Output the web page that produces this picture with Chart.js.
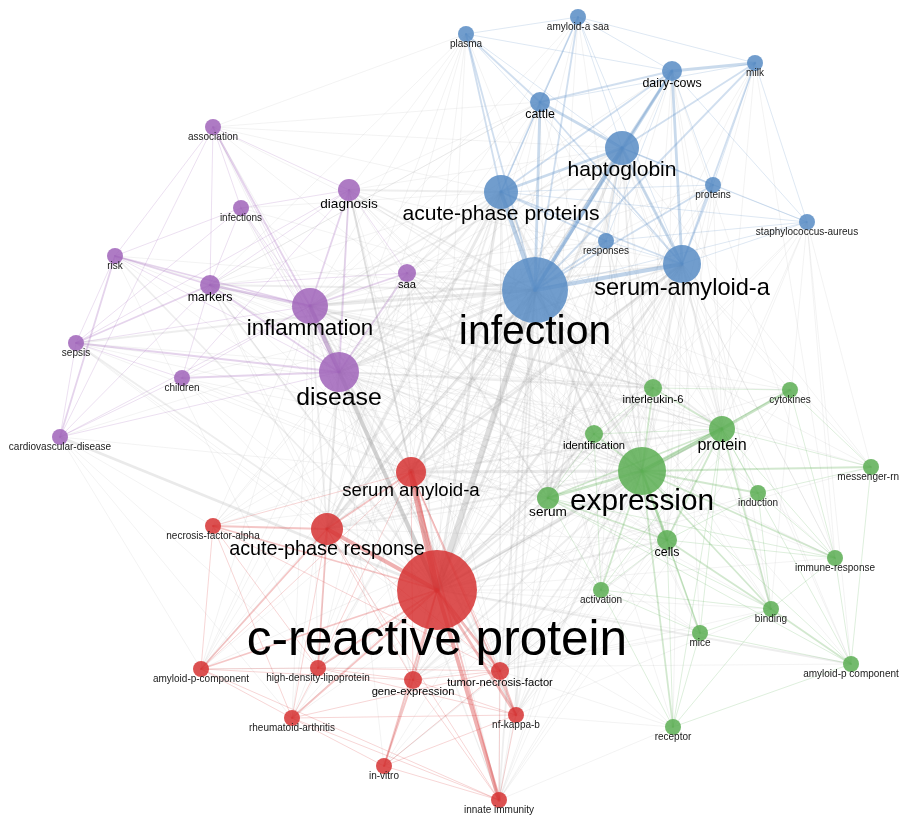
<!DOCTYPE html>
<html>
<head>
<meta charset="utf-8">
<title>Term co-occurrence network</title>
<script src="https://cdn.jsdelivr.net/npm/chart.js@4.4.1/dist/chart.umd.min.js"></script>
<style>
  html, body { margin: 0; padding: 0; background: #ffffff; }
  canvas { display: block; }
</style>
</head>
<body>
<canvas id="map" width="899" height="818"></canvas>
<script>
// ---- network data -------------------------------------------------------
// term identifiers, displayed labels, map coordinates, weights, clusters
const termIds = ['inf','sab','hap','app','cat','dc','milk','pla','aas','prs','sta','res',
  'infl','dis','dia','mar','ass','infs','risk','saa','sep','chi','cvd',
  'crp','sar','apr','nfa','apc','hdl','gex','tnf','ra','nfk','ivt','inn',
  'exp','pro','il6','cyt','idn','mrn','ind','ser','cel','imr','act','bin','mic','apc2','rec'];

const termLabels = ['infection','serum-amyloid-a','haptoglobin','acute-phase proteins','cattle','dairy-cows','milk','plasma','amyloid-a saa','proteins','staphylococcus-aureus','responses',
  'inflammation','disease','diagnosis','markers','association','infections','risk','saa','sepsis','children','cardiovascular-disease',
  'c-reactive protein','serum amyloid-a','acute-phase response','necrosis-factor-alpha','amyloid-p-component','high-density-lipoprotein','gene-expression','tumor-necrosis-factor','rheumatoid-arthritis','nf-kappa-b','in-vitro','innate immunity',
  'expression','protein','interleukin-6','cytokines','identification','messenger-rna','induction','serum','cells','immune-response','activation','binding','mice','amyloid-p component','receptor'];

const mapX = [535,682,622,501,540,672,755,466,578,713,807,606,
  310,339,349,210,213,241,115,407,76,182,60,
  437,411,327,213,201,318,413,500,292,516,384,499,
  642,722,653,790,594,871,758,548,667,835,601,771,700,851,673];

const mapY = [290,264,148,192,102,71,63,34,17,185,222,241,
  306,372,190,285,127,208,256,273,343,378,437,
  590,472,529,526,669,668,680,671,718,715,766,800,
  471,429,388,390,434,467,493,498,540,558,590,609,633,664,727];

const termWeights = [33,19,17,17,10,10,8,8,8,8,8,8,
  18,20,11,10,8,8,8,9,8,8,8,
  40,15,16,8,8,8,9,9,8,8,8,8,
  24,13,9,8,9,8,8,11,10,8,8,8,8,8,8];

const termClusters = ['blue','blue','blue','blue','blue','blue','blue','blue','blue','blue','blue','blue',
  'purple','purple','purple','purple','purple','purple','purple','purple','purple','purple','purple',
  'red','red','red','red','red','red','red','red','red','red','red','red',
  'green','green','green','green','green','green','green','green','green','green','green','green','green','green','green'];

const clusterNames = ['red','green','blue','purple'];

// links: [term, term, strength 1..5]
const links = [
  // blue cluster
  ['inf','hap',4],['inf','app',4],['inf','sab',4],['inf','cat',3],['inf','dc',3],['inf','aas',2],['inf','pla',2],
  ['inf','res',2],['inf','prs',2],['inf','sta',1],['inf','milk',2],
  ['hap','sab',3],['hap','app',3],['hap','cat',3],['hap','dc',3],['hap','milk',2],['hap','prs',2],['hap','aas',1],
  ['hap','pla',1],['hap','res',1],['hap','sta',1],
  ['app','cat',2],['app','dc',2],['app','sab',2],['app','pla',2],['app','aas',1],['app','res',2],['app','sta',1],['app','prs',1],
  ['sab','dc',3],['sab','cat',2],['sab','milk',2],['sab','prs',2],['sab','sta',1],['sab','aas',1],['sab','res',1],['sab','pla',1],
  ['cat','dc',2],['cat','aas',2],['cat','pla',2],['cat','milk',1],['dc','milk',3],['dc','aas',1],['dc','sta',1],['dc','prs',1],
  ['milk','sta',1],['milk','prs',1],['milk','aas',1],['aas','pla',1],['res','sta',1],['prs','sta',1],['res','dc',1],['pla','dc',1],
  // purple cluster
  ['infl','dis',4],['infl','mar',3],['infl','dia',2],['infl','saa',2],['infl','ass',2],['infl','infs',1],['infl','risk',2],
  ['infl','sep',1],['infl','chi',1],['infl','cvd',1],
  ['dis','dia',2],['dis','mar',2],['dis','saa',2],['dis','chi',2],['dis','sep',2],['dis','risk',1],['dis','ass',1],['dis','infs',1],['dis','cvd',1],
  ['mar','risk',2],['mar','sep',2],['mar','dia',1],['mar','ass',1],['mar','infs',1],['mar','cvd',1],['mar','chi',1],['mar','saa',1],
  ['risk','cvd',2],['risk','sep',1],['risk','ass',1],['risk','infs',1],['sep','chi',1],['sep','cvd',1],['sep','infs',1],
  ['ass','infs',1],['ass','cvd',1],['dia','infs',1],['dia','saa',1],['dia','sep',1],['dia','ass',1],['chi','cvd',1],['chi','dia',1],
  // red cluster
  ['crp','sar',5],['crp','apr',4],['crp','inn',4],['crp','tnf',3],['crp','nfk',3],['crp','gex',2],['crp','hdl',2],['crp','apc',2],
  ['crp','ra',2],['crp','nfa',2],['crp','ivt',2],
  ['sar','apr',2],['sar','inn',2],['sar','nfk',2],['sar','tnf',1],['sar','hdl',1],['sar','apc',1],['sar','nfa',1],['sar','gex',1],
  ['apr','nfa',2],['apr','hdl',2],['apr','apc',2],['apr','ra',1],['apr','gex',1],['apr','tnf',1],['apr','inn',1],
  ['nfa','ra',1],['nfa','apc',1],['nfa','tnf',1],['nfa','hdl',1],['apc','ra',1],['apc','hdl',1],['apc','gex',1],
  ['hdl','ra',1],['hdl','gex',1],['hdl','tnf',1],['hdl','nfk',1],['ra','tnf',1],['ra','nfk',1],['ra','ivt',1],['ra','inn',1],
  ['gex','ivt',2],['gex','tnf',1],['gex','nfk',1],['gex','inn',1],['tnf','nfk',2],['tnf','inn',1],['tnf','ivt',1],
  ['nfk','inn',1],['ivt','inn',1],['ivt','nfk',1],['apc','inn',1],
  // green cluster
  ['exp','pro',4],['exp','ser',3],['exp','cel',3],['exp','idn',2],['exp','il6',2],['exp','mrn',2],['exp','ind',2],['exp','rec',2],
  ['exp','bin',2],['exp','mic',2],['exp','act',2],['exp','imr',2],['exp','cyt',1],['exp','apc2',1],
  ['pro','cyt',3],['pro','il6',2],['pro','ser',2],['pro','cel',2],['pro','ind',1],['pro','mrn',1],['pro','bin',2],['pro','imr',1],
  ['pro','idn',1],['pro','rec',1],['pro','mic',1],['pro','apc2',1],['pro','act',1],
  ['ser','cel',2],['ser','bin',1],['ser','apc2',1],['ser','imr',1],['ser','idn',1],['ser','il6',1],['ser','act',1],
  ['cel','bin',2],['cel','mic',1],['cel','rec',1],['cel','ind',1],['cel','imr',1],['cel','act',1],
  ['bin','apc2',2],['bin','imr',1],['bin','ind',1],['bin','rec',1],['bin','mic',1],['mic','apc2',1],['rec','apc2',1],['rec','mic',1],
  ['rec','act',1],['ind','mrn',1],['ind','imr',1],['il6','cyt',1],['il6','idn',1],['imr','apc2',1],['cyt','mrn',1],['cyt','imr',1],
  ['mrn','apc2',1],['idn','act',1],['act','mic',1],['act','bin',1],
  // between clusters: the two hubs
  ['inf','crp',5],['inf','dis',3],['inf','infl',3],['inf','exp',3],['inf','sar',3],['inf','apr',3],['inf','ser',2],['inf','pro',2],
  ['inf','dia',2],['inf','mar',2],['inf','saa',2],['inf','cel',2],['inf','il6',2],['inf','idn',2],['inf','act',1],['inf','tnf',2],
  ['inf','gex',1],['inf','nfk',2],['inf','inn',2],['inf','sep',2],['inf','chi',1],['inf','risk',1],['inf','infs',1],['inf','ass',1],
  ['inf','cvd',1],['inf','nfa',1],['inf','hdl',1],['inf','ra',1],['inf','mic',1],['inf','bin',1],['inf','rec',1],['inf','imr',1],
  ['inf','cyt',1],['inf','mrn',1],['inf','ind',1],['inf','apc',1],['inf','ivt',1],['inf','apc2',1],
  ['crp','app',3],['crp','sab',3],['crp','hap',3],['crp','dis',4],['crp','infl',4],['crp','exp',3],['crp','ser',2],['crp','pro',2],
  ['crp','dia',2],['crp','mar',2],['crp','saa',2],['crp','cel',2],['crp','il6',2],['crp','idn',2],['crp','cat',1],['crp','res',1],
  ['crp','sep',2],['crp','chi',1],['crp','risk',2],['crp','cvd',3],['crp','ass',1],['crp','infs',1],['crp','act',1],['crp','mic',1],
  ['crp','bin',1],['crp','rec',1],['crp','apc2',2],['crp','cyt',1],['crp','imr',1],['crp','ind',1],['crp','mrn',1],['crp','prs',1],
  ['crp','pla',1],['crp','dc',1],['crp','milk',1],['crp','aas',1],['crp','sta',1],
  // between clusters: purple terms
  ['dis','app',2],['dis','sab',2],['dis','hap',2],['dis','sar',2],['dis','apr',2],['dis','exp',2],['dis','pro',1],['dis','ser',1],
  ['dis','nfa',1],['dis','ra',1],['dis','hdl',1],['dis','apc',1],['dis','tnf',1],['dis','gex',1],['dis','cat',1],['dis','res',1],
  ['dis','idn',1],['dis','il6',2],['dis','cel',1],['dis','inn',1],['dis','ivt',1],['dis','nfk',1],['dis','mic',1],['dis','act',1],
  ['dis','bin',1],['dis','cyt',1],['dis','imr',1],['dis','dc',1],['dis','prs',1],['dis','aas',1],
  ['infl','app',2],['infl','sab',2],['infl','hap',2],['infl','sar',2],['infl','apr',2],['infl','exp',2],['infl','il6',2],['infl','pro',1],
  ['infl','ser',1],['infl','nfa',1],['infl','tnf',1],['infl','cyt',1],['infl','ra',1],['infl','cel',1],['infl','res',1],
  ['infl','idn',1],['infl','gex',1],['infl','nfk',2],['infl','inn',1],['infl','hdl',1],['infl','apc',1],['infl','act',1],
  ['infl','imr',1],['infl','mrn',1],['infl','cat',1],['infl','dc',1],['infl','prs',1],['infl','aas',1],
  ['dia','sar',2],['dia','apr',1],['dia','cel',1],['dia','idn',1],['dia','il6',1],['dia','tnf',1],['dia','inn',1],['dia','ser',1],
  ['dia','pro',1],['dia','cat',1],
  ['mar','ser',1],['mar','il6',1],['mar','cel',1],['mar','pro',1],['mar','idn',1],['mar','tnf',1],['mar','gex',1],['mar','cat',1],
  ['saa','ser',2],['saa','pro',1],['saa','idn',1],['saa','cel',1],['saa','il6',1],['saa','tnf',1],['saa','hdl',1],['saa','apc',1],
  ['sep','exp',1],['sep','il6',1],['sep','pro',1],['sep','tnf',1],['sep','sar',1],['sep','apr',1],
  ['chi','exp',1],['chi','ser',1],['chi','sar',1],['chi','apr',1],
  ['risk','exp',1],['risk','pro',1],['risk','sar',1],['risk','hdl',1],
  ['cvd','sar',1],['cvd','apc',1],['cvd','ra',1],['cvd','hdl',1],['cvd','nfa',1],
  ['infs','sar',1],['infs','exp',1],['infs','app',1],
  ['ass','sar',1],['ass','exp',1],['ass','app',1],['ass','hap',1],['ass','cat',1],['ass','pla',1],
  ['pla','dia',1],['pla','infl',1],['pla','dis',1],['pla','mar',1],
  // between clusters: blue terms
  ['exp','app',2],['exp','sab',2],['exp','hap',2],['exp','sar',3],['exp','apr',2],['exp','gex',2],['exp','tnf',2],['exp','nfk',2],
  ['exp','inn',1],['exp','ivt',1],['exp','hdl',1],['exp','apc',1],['exp','dia',1],['exp','mar',1],['exp','saa',1],['exp','res',1],
  ['sar','app',2],['sar','sab',3],['sar','hap',2],['sar','pro',2],['sar','ser',2],['sar','saa',1],['sar','mar',1],
  ['sar','cel',1],['sar','idn',1],['sar','cat',1],['sar','dc',1],['sar','il6',1],['sar','act',1],['sar','mic',1],['sar','rec',1],
  ['apr','app',3],['apr','sab',2],['apr','hap',2],['apr','mar',1],['apr','saa',1],['apr','pro',1],['apr','ser',1],
  ['apr','il6',1],['apr','cat',1],['apr','idn',1],['apr','cel',1],['apr','cyt',1],
  ['app','dia',2],['app','mar',1],['app','saa',2],['app','ser',1],['app','pro',1],['app','il6',1],['app','tnf',1],['app','hdl',1],
  ['app','cel',1],['app','idn',2],['app','gex',1],['app','nfk',1],['app','inn',1],['app','apc',1],['app','ra',1],['app','mic',1],
  ['app','bin',1],['app','act',1],['app','nfa',1],
  ['hap','dia',1],['hap','ser',2],['hap','pro',1],['hap','saa',1],['hap','idn',1],['hap','imr',1],['hap','cel',1],['hap','il6',1],
  ['hap','tnf',1],['hap','gex',1],['hap','bin',1],['hap','mrn',1],['hap','apc2',1],['hap','hdl',1],['hap','apc',1],['hap','act',1],
  ['hap','nfk',1],['hap','inn',1],
  ['sab','ser',2],['sab','pro',2],['sab','il6',1],['sab','cel',1],['sab','idn',1],['sab','saa',1],['sab','tnf',1],['sab','dia',1],
  ['sab','cyt',1],['sab','mrn',1],['sab','apc2',1],['sab','imr',1],['sab','gex',1],['sab','nfk',1],['sab','inn',1],['sab','apc',1],
  ['sab','hdl',1],['sab','ind',1],['sab','bin',1],['sab','mic',1],['sab','act',1],['sab','rec',1],['sab','nfa',1],['sab','ra',1],
  ['cat','exp',1],['cat','pro',1],['cat','ser',1],['cat','mar',1],
  ['dc','exp',1],['dc','pro',1],['dc','ser',1],['dc','cel',1],['dc','imr',1],['dc','bin',1],
  ['milk','exp',1],['milk','ser',1],['milk','pro',1],['milk','imr',1],
  ['prs','exp',1],['prs','pro',1],['prs','ser',1],['prs','cel',1],
  ['res','exp',1],['res','ser',1],['res','pro',1],['res','mar',1],['res','sar',1],['res','apr',1],['res','il6',1],
  ['pla','exp',1],['pla','sar',1],['pla','apr',1],
  ['aas','exp',1],['aas','ser',1],
  ['sta','exp',1],['sta','imr',1],['sta','apc2',1],['sta','pro',1],['sta','ser',1],['sta','cel',1],['sta','bin',1],['sta','mrn',1],
  // between clusters: red and green terms
  ['tnf','pro',1],['tnf','il6',1],['tnf','cyt',1],['tnf','cel',1],['tnf','act',1],['tnf','rec',1],['tnf','mic',1],['tnf','bin',1],
  ['nfk','pro',1],['nfk','cel',1],['nfk','act',1],['nfk','bin',1],['nfk','rec',1],
  ['gex','ser',1],['gex','pro',1],['gex','cel',1],['gex','mic',1],['gex','act',1],['gex','idn',1],
  ['ivt','ser',1],['ivt','cel',1],['ivt','act',1],
  ['inn','ser',1],['inn','pro',1],['inn','il6',1],['inn','rec',1],['inn','cel',1],['inn','cyt',1],
  ['hdl','ser',1],['nfa','il6',1],['nfa','exp',1],['apc','apc2',1],['ra','exp',1],['ra','il6',1]
];

// ---- styles -------------------------------------------------------------
const clusterRgb = {
  red:    [214, 50, 50],
  green:  [92, 174, 84],
  blue:   [88, 140, 196],
  purple: [160, 100, 186]
};
const grayRgb = [150, 150, 150];
const linkWidth = [0, 1, 1.8, 2.8, 4, 6];
const grayAlpha = [0, 0.11, 0.16, 0.2, 0.25, 0.3];
const tintAlpha = [0, 0.2, 0.28, 0.32, 0.38, 0.42];
const FONT = "'Liberation Sans', Arial, Helvetica, sans-serif";

const indexOf = {};
termIds.forEach((id, i) => { indexOf[id] = i; });

const rgba = (c, a) => `rgba(${c[0]},${c[1]},${c[2]},${a})`;
const fontSizeFor = r => Math.max(10, r * 1.24);

// one bubble dataset per cluster
const datasets = clusterNames.map(name => {
  const pts = [];
  termIds.forEach((id, i) => {
    if (termClusters[i] === name) pts.push({ x: mapX[i], y: mapY[i], r: termWeights[i], idx: i });
  });
  return {
    label: name,
    data: pts,
    backgroundColor: rgba(clusterRgb[name], 0.85),
    borderWidth: 0,
    hoverRadius: 0,
    clip: false
  };
});

// links drawn underneath the bubbles, positioned by the chart's scales
const linkPlugin = {
  id: 'links',
  beforeDatasetsDraw(chart) {
    const ctx = chart.ctx, sx = chart.scales.x, sy = chart.scales.y;
    const list = links.map(([a, b, s]) => {
      const i = indexOf[a], j = indexOf[b];
      const same = termClusters[i] === termClusters[j];
      return { i, j, s, same };
    });
    // grey links first, then cluster-coloured ones; weak before strong
    list.sort((p, q) => (p.same - q.same) || (p.s - q.s));
    ctx.save();
    ctx.lineCap = 'round';
    list.forEach(({ i, j, s, same }) => {
      ctx.beginPath();
      ctx.moveTo(sx.getPixelForValue(mapX[i]), sy.getPixelForValue(mapY[i]));
      ctx.lineTo(sx.getPixelForValue(mapX[j]), sy.getPixelForValue(mapY[j]));
      ctx.lineWidth = linkWidth[s];
      ctx.strokeStyle = same ? rgba(clusterRgb[termClusters[i]], tintAlpha[s]) : rgba(grayRgb, grayAlpha[s]);
      ctx.stroke();
    });
    ctx.restore();
  }
};

// term labels below each bubble
const labelPlugin = {
  id: 'termLabels',
  afterDatasetsDraw(chart) {
    const ctx = chart.ctx, sx = chart.scales.x, sy = chart.scales.y;
    ctx.save();
    ctx.textAlign = 'center';
    ctx.textBaseline = 'middle';
    termIds.forEach((id, i) => {
      const fs = fontSizeFor(termWeights[i]);
      ctx.font = `${fs.toFixed(1)}px ${FONT}`;
      ctx.fillStyle = fs > 11 ? '#000000' : '#1a1a1a';
      ctx.fillText(termLabels[i], sx.getPixelForValue(mapX[i]), sy.getPixelForValue(mapY[i]) + fs * 1.04);
    });
    ctx.restore();
  }
};

new Chart(document.getElementById('map'), {
  type: 'bubble',
  data: { datasets },
  options: {
    responsive: false,
    animation: false,
    events: [],
    layout: { padding: 0, autoPadding: false },
    plugins: { legend: { display: false }, tooltip: { enabled: false } },
    scales: {
      x: { type: 'linear', min: 0, max: 899, display: false },
      y: { type: 'linear', min: 0, max: 818, reverse: true, display: false }
    }
  },
  plugins: [linkPlugin, labelPlugin]
});
</script>
</body>
</html>
